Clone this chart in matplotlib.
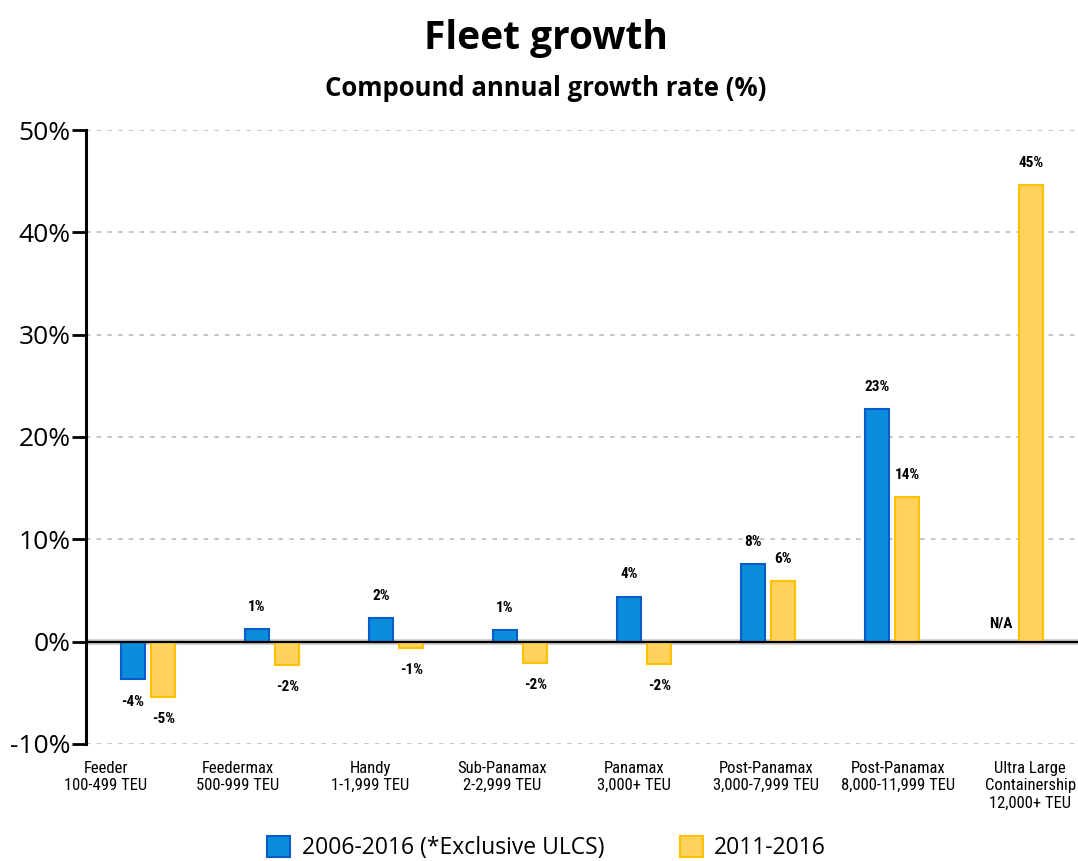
import numpy as np
import matplotlib
matplotlib.use("Agg")
import matplotlib.pyplot as plt
from matplotlib.ticker import FuncFormatter

# Vessel size classes (two-line labels)
categories = [
    "Feeder\n100-499 TEU",
    "Feedermax\n500-999 TEU",
    "Handy\n1-1,999 TEU",
    "Sub-Panamax\n2-2,999 TEU",
    "Panamax\n3,000+ TEU",
    "Post-Panamax\n3,000-7,999 TEU",
    "Post-Panamax\n8,000-11,999 TEU",
    "Ultra Large\nContainership\n12,000+ TEU",
]

# Compound annual growth rate, %
cagr_2006_2016 = [-3.7, 1.2, 2.3, 1.1, 4.4, 7.6, 22.7, None]   # ULCS excluded
cagr_2011_2016 = [-5.4, -2.3, -0.6, -2.1, -2.2, 5.9, 14.1, 44.6]

series_names = ["2006-2016 (*Exclusive ULCS)", "2011-2016"]
y_ticks = [-10, 0, 10, 20, 30, 40, 50]

BLUE_FILL, BLUE_EDGE = "#0a8ddb", "#0a5cc8"
GOLD_FILL, GOLD_EDGE = "#ffd25e", "#ffc000"

NARROW = ["Roboto Condensed", "Liberation Sans Narrow", "Roboto", "DejaVu Sans"]
SANS = ["Open Sans", "DejaVu Sans"]

fig = plt.figure(figsize=(10.78, 8.61), dpi=100)
ax = fig.add_axes([0.0798, 0.136, 0.9202, 0.713])

x = np.arange(len(categories))
w = 0.19
off = 0.122

def pct_label(v):
    return f"{int(np.floor(v + 0.5))}%"

for vals, sign, fc, ec in [
    (cagr_2006_2016, -1, BLUE_FILL, BLUE_EDGE),
    (cagr_2011_2016, 1, GOLD_FILL, GOLD_EDGE),
]:
    for xi, v in zip(x, vals):
        xpos = xi + sign * off
        if v is None:
            ax.annotate("N/A", (xpos, 0), xytext=(0, 13), textcoords="offset points",
                        ha="center", va="center", fontsize=11, fontweight="bold",
                        family=NARROW, zorder=5)
            continue
        ax.bar(xpos, v, width=w, color=fc, edgecolor=ec, linewidth=1.5, zorder=3)
        dy = 16 if v >= 0 else -16
        ax.annotate(pct_label(v), (xpos, v), xytext=(0, dy), textcoords="offset points",
                    ha="center", va="center", fontsize=11, fontweight="bold",
                    family=NARROW, zorder=5)

ax.set_xlim(-0.5, len(categories) - 0.5)
ax.set_ylim(-10, 50)
ax.set_yticks(y_ticks)
ax.yaxis.set_major_formatter(FuncFormatter(lambda v, p: f"{v:.0f}%"))
for lbl in ax.get_yticklabels():
    lbl.set_family(SANS)
    lbl.set_fontsize(19)
ax.tick_params(axis="y", direction="out", length=10, width=2, color="black", pad=1)

# Category labels sit on their own, slightly wider spacing
label_pos = np.arange(len(categories)) * 1.065 - 0.34
ax.set_xticks(label_pos)
ax.set_xticklabels(categories, family=NARROW, fontsize=12, linespacing=1.2)
ax.tick_params(axis="x", length=0, pad=12)

for yv in y_ticks:
    if yv == 0:
        continue
    ax.axhline(yv, color="#b5b5b5", linewidth=1.1, linestyle=(0, (3, 4)), zorder=1)
ax.axhline(0, color="#c8c8c8", linewidth=4, zorder=2)
ax.axhline(0, color="black", linewidth=1.6, zorder=4)

for s in ["top", "right", "bottom"]:
    ax.spines[s].set_visible(False)
ax.spines["left"].set_linewidth(2.2)
ax.spines["left"].set_color("black")

fig.text(0.506, 0.955, "Fleet growth", ha="center", va="center",
         fontsize=28, fontweight="bold", family=SANS)
fig.text(0.506, 0.897, "Compound annual growth rate (%)", ha="center", va="center",
         fontsize=18.5, fontweight="bold", family=SANS)

# Legend row
handles = [
    plt.Rectangle((0, 0), 1, 1, facecolor=BLUE_FILL, edgecolor=BLUE_EDGE, linewidth=1.5),
    plt.Rectangle((0, 0), 1, 1, facecolor=GOLD_FILL, edgecolor=GOLD_EDGE, linewidth=1.5),
]
fig.legend(handles, series_names, loc="center", bbox_to_anchor=(0.507, 0.015),
           ncol=2, frameon=False, prop={"family": SANS, "size": 16.5},
           handlelength=1.0, handleheight=1.0, handletextpad=0.5, columnspacing=3.3)

fig.savefig("out.png", dpi=100, facecolor="white")
